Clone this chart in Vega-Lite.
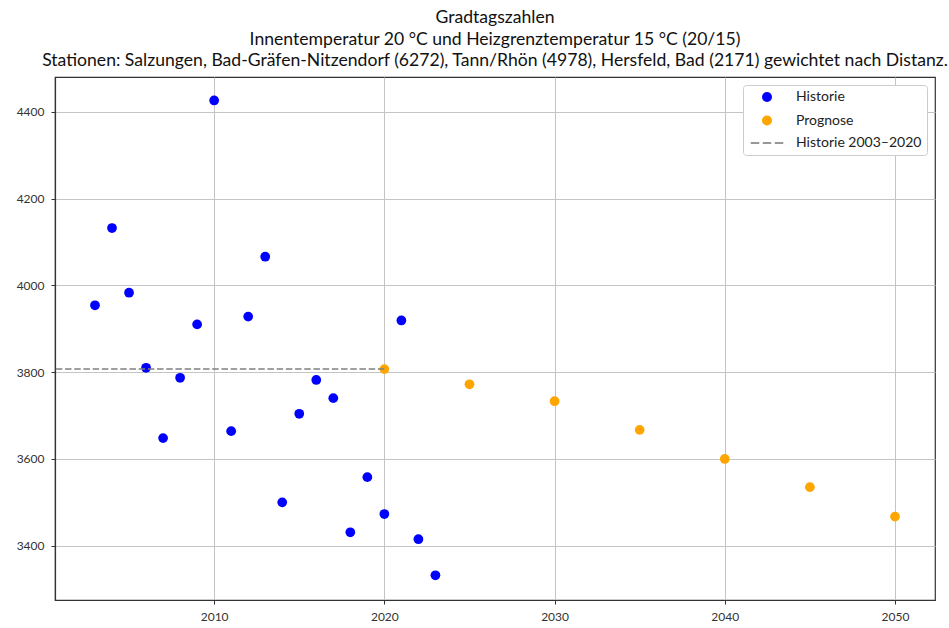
{
  "$schema": "https://vega.github.io/schema/vega-lite/v6.json",
  "width": 880,
  "height": 523,
  "autosize": "none",
  "padding": {"left": 55, "top": 77, "right": 14, "bottom": 28},
  "background": "white",
  "config": {
    "font": "Lato",
    "view": {"stroke": "#333333", "strokeWidth": 1.2},
    "axis": {
      "labelFont": "Lato",
      "labelFontSize": 12,
      "labelColor": "#333333",
      "tickColor": "#333333",
      "tickSize": 4,
      "domainColor": "#333333",
      "domainWidth": 1.2,
      "gridColor": "#c4c4c4",
      "gridWidth": 1,
      "labelPadding": 7
    }
  },
  "title": {
    "text": [
      "Gradtagszahlen",
      "Innentemperatur 20 °C und Heizgrenztemperatur 15 °C (20/15)",
      "Stationen: Salzungen, Bad-Gräfen-Nitzendorf (6272), Tann/Rhön (4978), Hersfeld, Bad (2171) gewichtet nach Distanz."
    ],
    "font": "Lato",
    "fontSize": 17.6,
    "fontWeight": "normal",
    "lineHeight": 21.5,
    "anchor": "middle",
    "frame": "group",
    "offset": 7,
    "color": "#111111"
  },
  "layer": [
    {
      "data": {
        "values": [
          {"year": 2003, "value": 3954, "series": "Historie"},
          {"year": 2004, "value": 4132, "series": "Historie"},
          {"year": 2005, "value": 3983, "series": "Historie"},
          {"year": 2006, "value": 3810, "series": "Historie"},
          {"year": 2007, "value": 3648, "series": "Historie"},
          {"year": 2008, "value": 3787, "series": "Historie"},
          {"year": 2009, "value": 3910, "series": "Historie"},
          {"year": 2010, "value": 4426, "series": "Historie"},
          {"year": 2011, "value": 3664, "series": "Historie"},
          {"year": 2012, "value": 3928, "series": "Historie"},
          {"year": 2013, "value": 4066, "series": "Historie"},
          {"year": 2014, "value": 3500, "series": "Historie"},
          {"year": 2015, "value": 3704, "series": "Historie"},
          {"year": 2016, "value": 3782, "series": "Historie"},
          {"year": 2017, "value": 3740, "series": "Historie"},
          {"year": 2018, "value": 3431, "series": "Historie"},
          {"year": 2019, "value": 3558, "series": "Historie"},
          {"year": 2020, "value": 3473, "series": "Historie"},
          {"year": 2021, "value": 3919, "series": "Historie"},
          {"year": 2022, "value": 3415, "series": "Historie"},
          {"year": 2023, "value": 3332, "series": "Historie"},
          {"year": 2020, "value": 3807, "series": "Prognose"},
          {"year": 2025, "value": 3772, "series": "Prognose"},
          {"year": 2030, "value": 3733, "series": "Prognose"},
          {"year": 2035, "value": 3667, "series": "Prognose"},
          {"year": 2040, "value": 3600, "series": "Prognose"},
          {"year": 2045, "value": 3535, "series": "Prognose"},
          {"year": 2050, "value": 3467, "series": "Prognose"}
        ]
      },
      "mark": {"type": "point", "filled": true, "opacity": 1, "size": 95, "strokeWidth": 0},
      "encoding": {
        "x": {
          "field": "year",
          "type": "quantitative",
          "title": null,
          "scale": {"domain": [2000.65, 2052.35], "nice": false, "zero": false},
          "axis": {"values": [2010, 2020, 2030, 2040, 2050], "format": "d", "grid": true}
        },
        "y": {
          "field": "value",
          "type": "quantitative",
          "title": null,
          "scale": {"domain": [3275, 4480], "nice": false, "zero": false},
          "axis": {"values": [3400, 3600, 3800, 4000, 4200, 4400], "format": "d", "grid": true}
        },
        "color": {
          "field": "series",
          "type": "nominal",
          "scale": {
            "domain": ["Historie", "Prognose", "Historie 2003–2020"],
            "range": ["#0000ff", "#ffa500", "#777777"]
          },
          "legend": {
            "title": null,
            "orient": "top-right",
            "offset": 8,
            "padding": 5,
            "fillColor": "white",
            "strokeColor": "#cccccc",
            "cornerRadius": 3,
            "labelFont": "Lato",
            "labelFontSize": 14,
            "labelColor": "#222222",
            "symbolSize": 100,
            "symbolOffset": 12,
            "rowPadding": 7.5,
            "labelOffset": 22,
            "symbolOpacity": 1,
            "encode": {
              "symbols": {
                "update": {
                  "stroke": [
                    {"test": "datum.value === 'Historie 2003–2020'", "value": "#777777"},
                    {"value": "transparent"}
                  ],
                  "strokeWidth": {"value": 1.5}
                }
              }
            }
          }
        },
        "shape": {
          "field": "series",
          "type": "nominal",
          "scale": {
            "domain": ["Historie", "Prognose", "Historie 2003–2020"],
            "range": ["circle", "circle", "M-3.25,0H-1.55M-0.85,0H0.85M1.55,0H3.25"]
          },
          "legend": {
            "title": null,
            "orient": "top-right",
            "offset": 8,
            "padding": 5,
            "fillColor": "white",
            "strokeColor": "#cccccc",
            "cornerRadius": 3,
            "labelFont": "Lato",
            "labelFontSize": 14,
            "labelColor": "#222222",
            "symbolSize": 100,
            "symbolOffset": 12,
            "rowPadding": 7.5,
            "labelOffset": 22,
            "symbolOpacity": 1,
            "encode": {
              "symbols": {
                "update": {
                  "stroke": [
                    {"test": "datum.value === 'Historie 2003–2020'", "value": "#777777"},
                    {"value": "transparent"}
                  ],
                  "strokeWidth": {"value": 1.5}
                }
              }
            }
          }
        }
      }
    },
    {
      "data": {"values": [{"start": 2000.7, "end": 2020, "mean": 3807}]},
      "mark": {"type": "rule", "color": "#808080", "strokeDash": [6.5, 2.7], "strokeWidth": 1.5},
      "encoding": {
        "x": {"field": "start", "type": "quantitative", "title": null},
        "x2": {"field": "end"},
        "y": {"field": "mean", "type": "quantitative", "title": null}
      }
    }
  ]
}
